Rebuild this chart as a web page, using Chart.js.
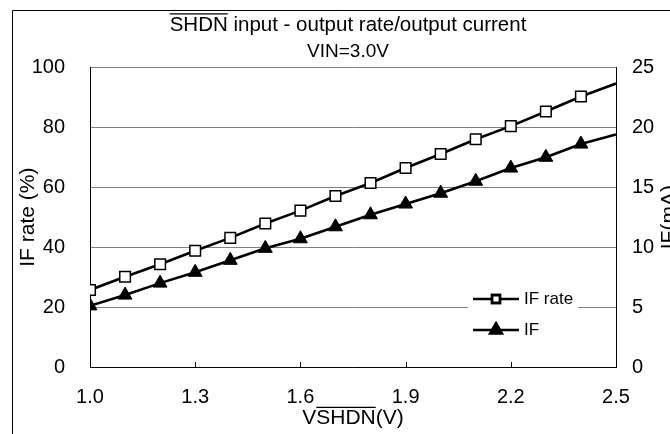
<!DOCTYPE html>
<html>
<head>
<meta charset="utf-8">
<script src="https://cdn.jsdelivr.net/npm/chart.js@4.4.1/dist/chart.umd.min.js"></script>
<style>
  body { margin: 0; background: #fff; }
  canvas { display: block; }
</style>
</head>
<body>
<canvas id="chart" width="670" height="434"></canvas>
<script>
// tension VSHDN (V) en abscisse
const vshdn = [1.0, 1.1, 1.2, 1.3, 1.4, 1.5, 1.6, 1.7, 1.8, 1.9, 2.0, 2.1, 2.2, 2.3, 2.4, 2.5];
// IF rate (%) - axe de gauche
const ifRate = [25.7, 30.1, 34.3, 38.8, 43.1, 47.9, 52.2, 57.1, 61.4, 66.4, 71.1, 76.0, 80.4, 85.3, 90.3, 94.6];
// IF (mA) - axe de droite
const ifCurrent = [5.1, 6.0, 7.0, 7.9, 8.9, 9.9, 10.7, 11.7, 12.7, 13.6, 14.5, 15.5, 16.6, 17.5, 18.6, 19.4];
// pas de marqueur sur le dernier point (bord du graphe)
const markerShown = [1, 1, 1, 1, 1, 1, 1, 1, 1, 1, 1, 1, 1, 1, 1, 0];

const titleText = 'SHDN input - output rate/output current';
const subtitleText = 'VIN=3.0V';
const xTitle = 'VSHDN(V)';
const yTitle = 'IF rate (%)';
const y2Title = 'IF(mA)';
const seriesNames = ['IF rate', 'IF'];

const FONT = '"Liberation Sans", Arial, sans-serif';
const TITLE_SIZE = 20.5;
const AXIS_TITLE_SIZE = 21;
const TICK_SIZE = 20;

// dessins en plus : cadre, barres au-dessus de SHDN, titre de droite, legende
const decor = {
  id: 'decor',
  beforeDraw(chart) {
    const ctx = chart.ctx;
    ctx.save();
    ctx.strokeStyle = '#000';
    ctx.lineWidth = 1;
    ctx.beginPath();
    ctx.moveTo(12.5, 440);
    ctx.lineTo(12.5, 10.5);
    ctx.lineTo(680, 10.5);
    ctx.stroke();
    ctx.restore();
  },
  afterDraw(chart) {
    const ctx = chart.ctx;
    const area = chart.chartArea;
    ctx.save();
    ctx.fillStyle = '#000';
    ctx.strokeStyle = '#000';

    // barre sur SHDN dans le titre
    ctx.font = TITLE_SIZE + 'px ' + FONT;
    const tb = chart.titleBlock;
    const cx = (tb.left + tb.right) / 2;
    const w1 = ctx.measureText(titleText).width;
    const x0 = cx - w1 / 2;
    const wS = ctx.measureText('SHDN').width;
    const yLine1 = tb.top + 13 + TITLE_SIZE * 1.2 / 2;
    ctx.lineWidth = 1.3;
    ctx.beginPath();
    ctx.moveTo(x0, yLine1 - 11.5);
    ctx.lineTo(x0 + wS, yLine1 - 11.5);
    ctx.stroke();

    // barre sur SHDN dans le titre de l'axe x
    ctx.font = AXIS_TITLE_SIZE + 'px ' + FONT;
    const xs = chart.scales.x;
    const xc = (area.left + area.right) / 2;
    const wx = ctx.measureText(xTitle).width;
    const xa = xc - wx / 2 + ctx.measureText('V').width;
    const xb = xc - wx / 2 + ctx.measureText('VSHDN').width;
    const yx = xs.bottom - 3 - AXIS_TITLE_SIZE * 1.2 / 2 - 11;
    ctx.beginPath();
    ctx.moveTo(xa, yx);
    ctx.lineTo(xb, yx);
    ctx.stroke();

    // petites graduations vers l'interieur sur l'axe x
    ctx.lineWidth = 1;
    xs.ticks.forEach(t => {
      const px = Math.round(xs.getPixelForValue(t.value)) + 0.5;
      ctx.beginPath();
      ctx.moveTo(px, area.bottom);
      ctx.lineTo(px, area.bottom - 5);
      ctx.stroke();
    });

    // titre de l'axe de droite (coupe au bord)
    ctx.save();
    ctx.font = AXIS_TITLE_SIZE + 'px ' + FONT;
    ctx.translate(675, (area.top + area.bottom) / 2);
    ctx.rotate(-Math.PI / 2);
    ctx.textAlign = 'center';
    ctx.textBaseline = 'alphabetic';
    ctx.fillText(y2Title, 0, 0);
    ctx.restore();

    // legende dans le graphe
    ctx.fillStyle = '#fff';
    ctx.fillRect(468, 284, 110, 61);
    const rows = [299, 330];
    chart.data.datasets.forEach((ds, i) => {
      const y = rows[i];
      ctx.strokeStyle = ds.borderColor;
      ctx.lineWidth = ds.borderWidth;
      ctx.beginPath();
      ctx.moveTo(473, y);
      ctx.lineTo(519, y);
      ctx.stroke();
      Chart.helpers.drawPoint(ctx, {
        pointStyle: ds.pointStyle,
        radius: ds.pointStyle === 'rect' ? 5.5 : 6.5,
        borderWidth: 1.3,
        rotation: 0
      }, 496, y);
      ctx.fillStyle = ds.pointBackgroundColor;
      ctx.strokeStyle = '#000';
      ctx.fill();
      ctx.stroke();
      ctx.fillStyle = '#000';
      ctx.font = '17px ' + FONT;
      ctx.textBaseline = 'middle';
      ctx.textAlign = 'left';
      ctx.fillText(ds.label, 524, y);
    });
    ctx.restore();
  }
};

const ctx = document.getElementById('chart').getContext('2d');
new Chart(ctx, {
  type: 'line',
  data: {
    datasets: [{
      label: seriesNames[0],
      data: vshdn.map((v, i) => ({ x: v, y: ifRate[i] })),
      yAxisID: 'y',
      borderColor: '#000',
      borderWidth: 2.6,
      pointStyle: 'rect',
      pointRadius: markerShown.map(m => m ? 7.5 : 0),
      pointBorderWidth: 1.5,
      pointBackgroundColor: '#fff',
      pointBorderColor: '#000',
      tension: 0
    }, {
      label: seriesNames[1],
      data: vshdn.map((v, i) => ({ x: v, y: ifCurrent[i] })),
      yAxisID: 'y2',
      borderColor: '#000',
      borderWidth: 2.6,
      pointStyle: 'triangle',
      pointRadius: markerShown.map(m => m ? 8 : 0),
      pointBorderWidth: 1,
      pointBackgroundColor: '#000',
      pointBorderColor: '#000',
      tension: 0
    }]
  },
  options: {
    responsive: false,
    animation: false,
    layout: { padding: { left: 12, right: -14, top: 0, bottom: 0 } },
    plugins: {
      legend: { display: false },
      tooltip: { enabled: false },
      title: {
        display: true,
        text: titleText,
        color: '#000',
        font: { family: FONT, size: TITLE_SIZE, weight: 'normal', lineHeight: 1.2 },
        padding: { top: 13, bottom: 0 }
      },
      subtitle: {
        display: true,
        text: subtitleText,
        color: '#000',
        font: { family: FONT, size: 19, weight: 'normal', lineHeight: 1.2 },
        padding: { top: 3, bottom: 4 }
      }
    },
    scales: {
      x: {
        type: 'linear',
        min: 1.0,
        max: 2.5,
        afterFit: s => { s.height = 67; },
        ticks: {
          stepSize: 0.3,
          color: '#000',
          font: { family: FONT, size: TICK_SIZE },
          padding: 18,
          maxRotation: 0,
          autoSkip: false,
          callback: v => v.toFixed(1)
        },
        grid: { display: false, drawTicks: false },
        border: { display: true, color: '#000', width: 1 },
        title: {
          display: true,
          text: xTitle,
          color: '#000',
          font: { family: FONT, size: AXIS_TITLE_SIZE },
          padding: { top: 0, bottom: 3 }
        }
      },
      y: {
        position: 'left',
        min: 0,
        max: 100,
        afterFit: s => { s.width = 78; },
        ticks: { stepSize: 20, color: '#000', font: { family: FONT, size: TICK_SIZE }, padding: 25 },
        grid: { color: '#808080', drawTicks: false },
        border: { color: '#000', width: 1 },
        title: {
          display: true,
          text: yTitle,
          color: '#000',
          font: { family: FONT, size: AXIS_TITLE_SIZE },
          padding: { top: 4, bottom: 0 }
        }
      },
      y2: {
        position: 'right',
        min: 0,
        max: 25,
        afterFit: s => { s.width = 68; },
        ticks: { stepSize: 5, color: '#000', font: { family: FONT, size: TICK_SIZE }, padding: 16 },
        grid: { drawOnChartArea: false, drawTicks: false },
        border: { color: '#000', width: 1 }
      }
    }
  },
  plugins: [decor]
});
</script>
</body>
</html>
